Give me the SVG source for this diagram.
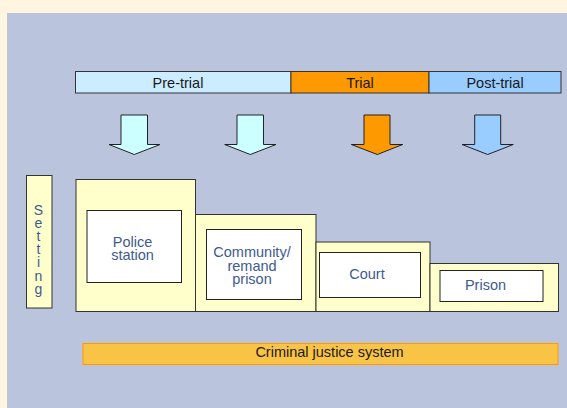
<svg xmlns="http://www.w3.org/2000/svg" width="567" height="408" viewBox="0 0 567 408">
<defs>
<style>
.bar{stroke:#333;stroke-width:1}
.outer{fill:#FFFFCC;stroke:#333;stroke-width:1}
.inner{fill:#FFFFFF;stroke:#222;stroke-width:1}
.arr{stroke:#222;stroke-width:1;stroke-linejoin:miter}
.t{font-family:"Liberation Sans",Arial,sans-serif;font-size:14.5px;text-anchor:middle}
.s{font-size:14px}
.dark{fill:#1a1a1a}
.blue{fill:#3E5A8E}
</style>
</defs>
<rect x="0" y="0" width="567" height="408" fill="#FFF5E0"/>
<rect x="7" y="13" width="560" height="395" fill="#BAC4DD"/>
<g id="phases">
<g id="pretrial"><rect class="bar" x="75.5" y="71.5" width="215.5" height="21.5" fill="#CCECFF"/><text class="t dark" x="178" y="88">Pre-trial</text></g>
<g id="trial"><rect class="bar" x="291" y="71.5" width="138" height="21.5" fill="#FF9900"/><text class="t dark" x="360" y="88">Trial</text></g>
<g id="posttrial"><rect class="bar" x="429" y="71.5" width="132" height="21.5" fill="#99CCFF"/><text class="t dark" x="495" y="88">Post-trial</text></g>
</g>
<g id="arrows">
<polygon class="arr" fill="#CCFFFF" points="121,115 147.5,115 147.5,144.5 160,144.5 134.3,154.5 109,144.5 121,144.5"/>
<polygon class="arr" fill="#CCFFFF" points="237,115 263.5,115 263.5,144.5 276,144.5 250.3,154.5 224.7,144.5 237,144.5"/>
<polygon class="arr" fill="#FF9900" points="364,115 390,115 390,144.5 402.7,144.5 377.3,154.5 351.3,144.5 364,144.5"/>
<polygon class="arr" fill="#99CCFF" points="474.7,115 500.7,115 500.7,144.5 513.3,144.5 487.7,154.5 462,144.5 474.7,144.5"/>
</g>
<g id="setting">
<rect class="outer" x="26.5" y="175.5" width="25.5" height="132.5"/>
<text class="t s blue" x="38.5"><tspan x="38.5" y="215">S</tspan><tspan x="38.5" y="228.1">e</tspan><tspan x="38.5" y="241.2">t</tspan><tspan x="38.5" y="254.3">t</tspan><tspan x="38.5" y="267.4">i</tspan><tspan x="38.5" y="280.5">n</tspan><tspan x="38.5" y="293.6">g</tspan></text>
</g>
<g id="police">
<rect class="outer" x="76" y="179.5" width="119.5" height="132"/>
<rect class="inner" x="87" y="210.5" width="94.5" height="72"/>
<text class="t blue" x="132.5" y="246.5">Police</text>
<text class="t blue" x="132.5" y="259.5">station</text>
</g>
<g id="community">
<rect class="outer" x="195.5" y="214.5" width="120.5" height="97"/>
<rect class="inner" x="206.5" y="229.5" width="95" height="70"/>
<text class="t blue" x="252" y="257.3">Community/</text>
<text class="t blue" x="252" y="270.6">remand</text>
<text class="t blue" x="252" y="283.9">prison</text>
</g>
<g id="court">
<rect class="outer" x="316" y="242" width="114" height="69.5"/>
<rect class="inner" x="319.5" y="252.5" width="101" height="45"/>
<text class="t blue" x="367" y="278.5">Court</text>
</g>
<g id="prison">
<rect class="outer" x="430" y="263.5" width="128.5" height="48"/>
<rect class="inner" x="440" y="270.5" width="103" height="31"/>
<text class="t blue" x="485.5" y="289.5">Prison</text>
</g>
<g id="cjs">
<rect x="83" y="343.5" width="475" height="21" fill="#F9C445" stroke="#FF9900" stroke-width="1"/>
<text class="t dark" x="329.5" y="357">Criminal justice system</text>
</g>
</svg>
